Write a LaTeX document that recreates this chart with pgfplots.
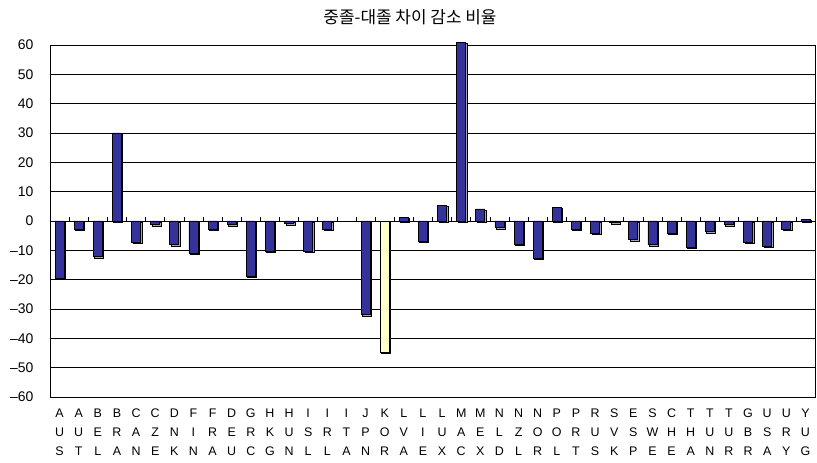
\documentclass[border=0pt]{standalone}
\usepackage{fontspec}
\setmainfont{Liberation Sans}
\newfontfamily\krfont{Noto Sans CJK KR}
\usepackage{pgfplots}
\pgfplotsset{compat=1.18}
\usepackage{pgfplotstable}

\definecolor{barblue}{RGB}{51,51,153}
\definecolor{baryellow}{RGB}{255,255,204}

% country code stacked letter by letter, with a fixed first-line height
\newcommand{\lab}[3]{\rule{0pt}{10bp}#1\\#2\\#3}

% change in the gap (percent), one row per country; ITA has no value
\pgfplotstableread{
idx val
0 -19.6
1 -2.7
2 -12.2
3 30.0
4 -7.3
5 -1.3
6 -8.1
7 -11.0
8 -2.7
9 -1.3
10 -18.7
11 -10.4
12 -0.9
13 -10.4
14 -2.8
16 -31.9
18 1.3
19 -6.8
20 5.4
21 61.0
22 4.1
23 -2.3
24 -7.8
25 -12.6
26 4.7
27 -2.7
28 -4.1
29 -0.6
30 -6.4
31 -8.1
32 -4.1
33 -9.0
34 -3.6
35 -1.3
36 -7.3
37 -8.6
38 -2.7
39 0.5
}\countries

% Korea, highlighted
\pgfplotstableread{
idx val
17 -44.8
}\korea

\begin{document}
\begin{tikzpicture}
\begin{axis}[
  anchor=south west,
  scale only axis, width=765bp, height=352bp,
  xmin=-0.5, xmax=39.5, ymin=-60, ymax=60,
  clip=false,
  axis line style={black, line width=0.8bp},
  ymajorgrids, grid style={black, line width=0.8bp},
  major tick length=0pt,
  xtick={0,...,39},
  xticklabels={
    \lab AUS, \lab AUT, \lab BEL, \lab BRA, \lab CAN, \lab CZE, \lab DNK, \lab FIN,
    \lab FRA, \lab DEU, \lab GRC, \lab HKG, \lab HUN, \lab ISL, \lab IRL, \lab ITA,
    \lab JPN, \lab KOR, \lab LVA, \lab LIE, \lab LUX, \lab MAC, \lab MEX, \lab NLD,
    \lab NZL, \lab NOR, \lab POL, \lab PRT, \lab RUS, \lab SVK, \lab ESP, \lab SWE,
    \lab CHE, \lab THA, \lab TUN, \lab TUR, \lab GBR, \lab USA, \lab URY, \lab YUG},
  x tick label style={align=center, font=\fontsize{12.5}{19}\selectfont, yshift=-7bp},
  ytick={-60,-50,...,60},
  yticklabels={–60,–50,–40,–30,–20,–10,0,10,20,30,40,50,60},
  y tick label style={font=\fontsize{14}{16}\selectfont, xshift=-13bp},
  ybar, bar shift=0pt, bar width=9bp,
]
\addplot[fill=barblue, draw=black, line width=0.7bp,
  preaction={fill=black!35, transform canvas={shift={(1.3bp,-1.3bp)}}}]
  table[x=idx, y=val] {\countries};
\addplot[fill=baryellow, draw=black, line width=0.7bp,
  preaction={fill=black!35, transform canvas={shift={(1.3bp,-1.3bp)}}}]
  table[x=idx, y=val] {\korea};
% small category separators on the zero line
\pgfplotsinvokeforeach{0.5,1.5,...,38.5}{
  \draw[black, line width=0.6bp] (axis cs:#1,0) -- ([yshift=3.5bp]axis cs:#1,0);
}
\end{axis}
\pgfresetboundingbox
\useasboundingbox ([shift={(-50bp,-66bp)}]current axis.south west)
  rectangle ([shift={(767bp,397bp)}]current axis.south west);
\node[font=\krfont\fontsize{17}{19}\selectfont, anchor=base]
  at ([shift={(360bp,373bp)}]current axis.south west) {중졸-대졸 차이 감소 비율};
\end{tikzpicture}
\end{document}
